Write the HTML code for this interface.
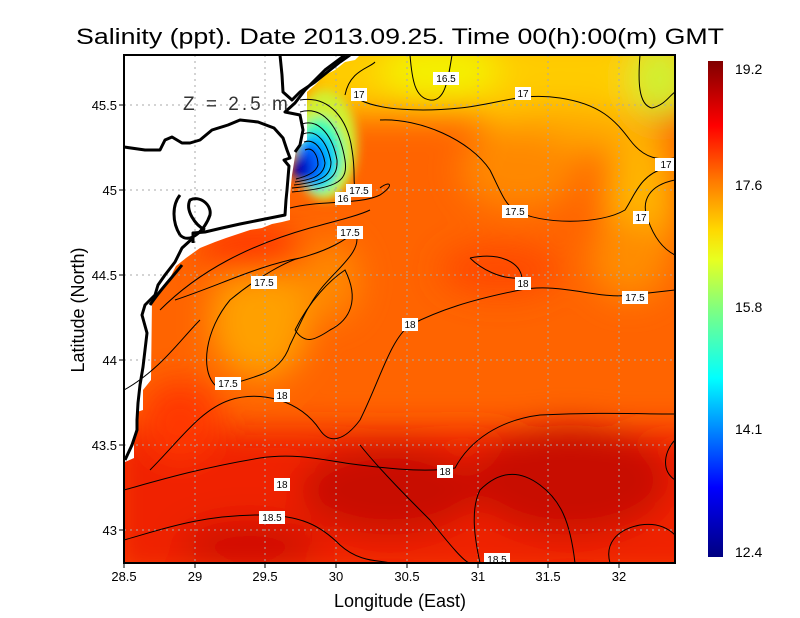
<!DOCTYPE html>
<html><head><meta charset="utf-8"><style>
html,body{margin:0;padding:0;background:#fff}
svg{display:block}
text{font-family:"Liberation Sans",sans-serif}
</style></head><body>
<svg width="800" height="618" viewBox="0 0 800 618" xmlns="http://www.w3.org/2000/svg">
<defs>
<clipPath id="pc"><rect x="124" y="55" width="551" height="508"/></clipPath>
<filter id="b1" x="-50%" y="-50%" width="200%" height="200%"><feGaussianBlur stdDeviation="16"/></filter>
<filter id="b2" x="-50%" y="-50%" width="200%" height="200%"><feGaussianBlur stdDeviation="5"/></filter>
<linearGradient id="cb" x1="0" y1="1" x2="0" y2="0">
<stop offset="0" stop-color="#000080"/>
<stop offset="0.14" stop-color="#0000ff"/>
<stop offset="0.25" stop-color="#0080ff"/>
<stop offset="0.36" stop-color="#00ffff"/>
<stop offset="0.5" stop-color="#80ff80"/>
<stop offset="0.6" stop-color="#e8ff20"/>
<stop offset="0.66" stop-color="#ffd800"/>
<stop offset="0.76" stop-color="#ff7800"/>
<stop offset="0.87" stop-color="#ff0000"/>
<stop offset="1" stop-color="#800000"/>
</linearGradient>
</defs>
<text x="400" y="44" font-size="22" text-anchor="middle" textLength="648" lengthAdjust="spacingAndGlyphs">Salinity (ppt). Date 2013.09.25. Time 00(h):00(m) GMT</text>

<g clip-path="url(#pc)">
<rect x="124" y="55" width="551" height="508" fill="#ff6400"/>
<g filter="url(#b1)">
<rect x="300" y="30" width="400" height="85" fill="#ffcc00"/>
<ellipse cx="440" cy="70" rx="60" ry="30" fill="#f4f000"/>
<ellipse cx="660" cy="80" rx="30" ry="40" fill="#d0f030"/>
<ellipse cx="560" cy="130" rx="80" ry="25" fill="#ffa800"/>
<ellipse cx="640" cy="200" rx="35" ry="80" fill="#ffb400"/>
<ellipse cx="630" cy="260" rx="40" ry="40" fill="#ff8c00"/>
<ellipse cx="260" cy="320" rx="50" ry="60" fill="#ffa000"/>
<ellipse cx="520" cy="170" rx="60" ry="40" fill="#ff8800"/>
<ellipse cx="330" cy="280" rx="30" ry="40" fill="#ff8800"/>
<rect x="110" y="430" width="600" height="150" fill="#f02000"/>
<ellipse cx="390" cy="490" rx="90" ry="45" fill="#c80800"/>
<ellipse cx="570" cy="480" rx="100" ry="55" fill="#c80800"/>
<ellipse cx="250" cy="545" rx="70" ry="25" fill="#d00800"/>
<ellipse cx="180" cy="420" rx="40" ry="40" fill="#ff3800"/>
<ellipse cx="500" cy="270" rx="60" ry="25" fill="#ff4800"/>
<ellipse cx="250" cy="250" rx="50" ry="25" fill="#ff3800"/>
</g>
<g filter="url(#b2)">
<ellipse cx="325" cy="145" rx="32" ry="55" fill="#d0f030"/>
<ellipse cx="320" cy="155" rx="24" ry="38" fill="#40ffb0"/>
<ellipse cx="316" cy="160" rx="20" ry="28" fill="#00c0ff"/>
<ellipse cx="310" cy="163" rx="15" ry="20" fill="#0060ff"/>
<ellipse cx="302" cy="168" rx="9" ry="14" fill="#0000c0"/>
</g>
<!-- land white -->
<path d="M124,55 L360,55 L355,60 L345,62 L335,70 L325,75 L315,85 L307,92 L307,140 L296,150 L292,175 L290,195 L290,220 L282,222 L272,224 L262,228 L250,230 L238,234 L226,238 L215,242 L200,248 L186,258 L176,266 L170,278 L160,290 L152,300 L151,380 L143,390 L143,410 L137,412 L137,432 L134,436 L134,458 L125,462 L124,470 Z" fill="#fff"/>
<!-- grid -->
<g stroke="#aaa" stroke-width="1" stroke-dasharray="2,4" fill="none">
<path d="M195,55V563M265,55V563M336,55V563M407,55V563M478,55V563M548,55V563M619,55V563"/>
<path d="M124,105H675M124,190H675M124,275H675M124,360H675M124,445H675M124,530H675"/>
</g>
<!-- contours -->
<g stroke="#000" stroke-width="1" fill="none">
<path d="M300,112 C325,105 340,130 345,160 C348,180 340,188 292,192"/>
<path d="M302,124 C320,118 333,138 337,160 C338,178 328,185 292,188"/>
<path d="M303,134 C318,128 328,145 331,162 C331,176 321,182 294,185"/>
<path d="M304,142 C315,138 323,150 325,163 C324,174 316,179 295,182"/>
<path d="M305,150 C313,146 318,156 318,165 C316,172 308,176 296,179"/>
<path d="M300,100 C330,95 348,120 352,150 C357,180 350,188 360,190"/>
<path d="M345,95 C350,70 370,68 375,62"/>
<path d="M410,55 C412,80 415,98 430,100 C445,102 448,80 452,55"/>
<path d="M360,100 C380,110 420,112 460,108 C500,104 520,92 560,98 C600,104 615,120 630,140 C645,160 660,160 675,158"/>
<path d="M640,55 C638,80 638,105 652,108 C665,105 670,95 675,92"/>
<path d="M380,120 C420,118 470,140 490,170 C500,190 505,205 515,210 C540,225 600,225 625,210 C635,195 640,175 665,168 L675,168"/>
<path d="M675,180 C650,185 640,200 648,220 C655,240 665,250 675,255"/>
<path d="M290,208 C320,200 360,205 380,195 C395,185 390,180 380,188"/>
<path d="M160,310 C200,270 250,245 310,228 C340,220 360,215 370,210"/>
<path d="M175,300 C220,285 260,265 300,258 C330,250 345,240 355,232 C365,250 335,270 320,290 C305,310 300,325 290,345 C285,360 275,370 260,375 C240,382 230,385 215,385 C200,370 205,330 230,300 C260,275 290,260 300,258"/>
<path d="M295,330 C310,300 330,280 345,270 C360,300 350,320 330,330 C315,340 305,345 295,330"/>
<path d="M124,390 C160,370 180,340 200,320"/>
<path d="M150,470 C180,440 200,410 230,400 C260,390 300,400 320,430 C330,445 345,440 360,420 C380,380 390,340 410,325 C440,310 470,300 520,290 C560,282 600,300 630,295 L675,290"/>
<path d="M470,258 C500,252 520,262 522,278 C500,280 480,268 470,258"/>
<path d="M124,490 C160,480 200,468 260,458 C300,452 330,462 360,465 C400,470 430,472 455,468 C470,440 500,420 540,415 C600,412 640,414 675,414"/>
<path d="M675,440 C665,450 660,470 675,480"/>
<path d="M124,540 C160,530 200,515 260,515 C300,515 320,525 340,545 C360,563 380,560 390,563"/>
<path d="M360,445 C380,470 410,500 430,520 C450,545 465,563 470,563"/>
<path d="M480,563 C475,540 470,510 480,490 C500,470 520,470 540,485 C560,500 570,520 575,563"/>
<path d="M610,563 C605,545 615,530 640,525 C660,522 670,530 675,535"/>
</g>
<!-- coastline -->
<g stroke="#000" stroke-width="3" fill="none" stroke-linejoin="round">
<path d="M124,147 L145,150 L160,150 L165,140 L172,137 L182,143 L190,143 L200,140 L212,130 L228,125 L240,120 L258,122 L274,128 L283,138 L287,150 L290,158 L284,160 L289,166 L287,190 L286,200 L285,215 L270,218 L240,224 L222,228 L205,232 L193,233 L193,243"/>
<path d="M193,238 L182,248 L175,262 L165,275 L158,285 L155,295 L145,305 L142,315 L147,333 L145,350 L143,367 L140,385 L138,403 L137,420 L137,430 L132,445 L125,460"/>
<path d="M280,55 L282,75 L283,92 L292,100 L300,92 L315,82 L340,62 L350,55"/>
<path d="M345,55 L325,70 L305,90 L295,103 L285,112 L300,115 L303,130 L300,145 L295,152"/>
<path d="M180,195 C172,205 172,222 180,235 M180,235 C190,245 205,230 210,215 C212,205 200,195 190,200 C185,210 195,225 205,230"/>
<path d="M150,305 C160,290 170,280 182,265"/>
</g>
<!-- labels -->
<g font-size="10" text-anchor="middle">
<g fill="#fff"><rect x="433" y="72" width="26" height="13"/><rect x="351" y="88" width="16" height="13"/><rect x="515" y="87" width="16" height="13"/><rect x="655" y="158" width="20" height="13"/><rect x="346" y="184" width="26" height="13"/><rect x="335" y="192" width="16" height="13"/><rect x="502" y="205" width="26" height="13"/><rect x="633" y="211" width="16" height="13"/><rect x="337" y="226" width="26" height="13"/><rect x="515" y="277" width="16" height="13"/><rect x="251" y="276" width="26" height="13"/><rect x="622" y="291" width="26" height="13"/><rect x="402" y="318" width="16" height="13"/><rect x="215" y="377" width="26" height="13"/><rect x="274" y="389" width="16" height="13"/><rect x="437" y="465" width="16" height="13"/><rect x="274" y="478" width="16" height="13"/><rect x="259" y="511" width="26" height="13"/><rect x="484" y="553" width="26" height="13"/></g>
<text x="446" y="82">16.5</text><text x="359" y="98">17</text><text x="523" y="97">17</text><text x="666" y="168">17</text><text x="359" y="194">17.5</text><text x="343" y="202">16</text><text x="515" y="215">17.5</text><text x="641" y="221">17</text><text x="350" y="236">17.5</text><text x="523" y="287">18</text><text x="264" y="286">17.5</text><text x="635" y="301">17.5</text><text x="410" y="328">18</text><text x="228" y="387">17.5</text><text x="282" y="399">18</text><text x="445" y="475">18</text><text x="282" y="488">18</text><text x="272" y="521">18.5</text><text x="497" y="563">18.5</text>
</g>
<text x="183" y="110" font-size="19" fill="#333" letter-spacing="3">Z = 2.5 m</text>
</g>
<rect x="124" y="55" width="551" height="508" fill="none" stroke="#000" stroke-width="2"/>
<g stroke="#000" stroke-width="1"><path d="M124,563v5M195,563v5M265,563v5M336,563v5M407,563v5M478,563v5M548,563v5M619,563v5M119,105h5M119,190h5M119,275h5M119,360h5M119,445h5M119,530h5"/></g>
<g font-size="13" text-anchor="middle">
<text x="124" y="581">28.5</text><text x="195" y="581">29</text><text x="265" y="581">29.5</text><text x="336" y="581">30</text><text x="407" y="581">30.5</text><text x="478" y="581">31</text><text x="548" y="581">31.5</text><text x="619" y="581">32</text>
</g>
<g font-size="13" text-anchor="end">
<text x="117" y="110">45.5</text><text x="117" y="195">45</text><text x="117" y="280">44.5</text><text x="117" y="365">44</text><text x="117" y="450">43.5</text><text x="117" y="535">43</text>
</g>
<text x="400" y="607" font-size="18" text-anchor="middle">Longitude (East)</text>
<text transform="translate(84,310) rotate(-90)" font-size="18" text-anchor="middle">Latitude (North)</text>
<rect x="708" y="61" width="15" height="496" fill="url(#cb)"/>
<g font-size="14">
<text x="735" y="74">19.2</text><text x="735" y="190">17.6</text><text x="735" y="312">15.8</text><text x="735" y="434">14.1</text><text x="735" y="557">12.4</text>
</g>
</svg>
</body></html>
